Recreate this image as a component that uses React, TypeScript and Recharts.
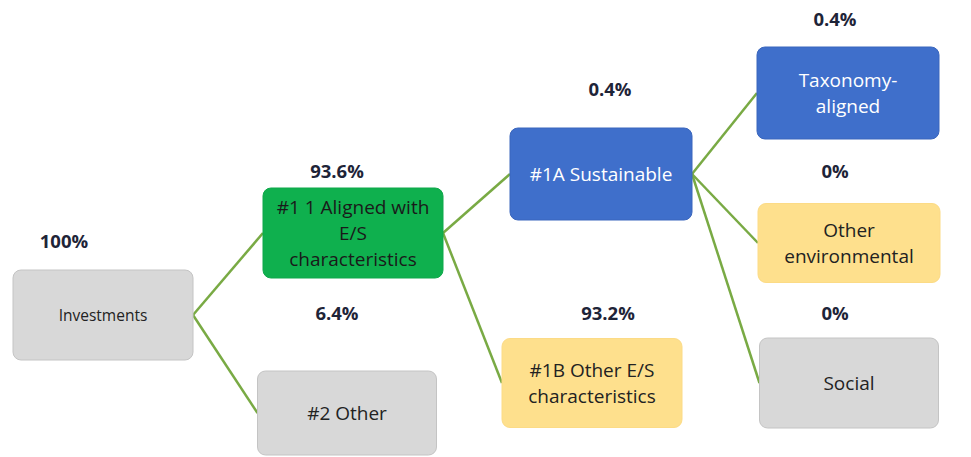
import React from 'react';
import { ScatterChart, Scatter, XAxis, YAxis, ReferenceLine } from 'recharts';

// ---- data ----
const nodeNames = [
  'Investments',
  '#1 1 Aligned with E/S characteristics',
  '#2 Other',
  '#1A Sustainable',
  '#1B Other E/S characteristics',
  'Taxonomy-aligned',
  'Other environmental',
  'Social',
];
const nodeLines = [
  ['Investments'],
  ['#1 1 Aligned with', 'E/S', 'characteristics'],
  ['#2 Other'],
  ['#1A Sustainable'],
  ['#1B Other E/S', 'characteristics'],
  ['Taxonomy-', 'aligned'],
  ['Other', 'environmental'],
  ['Social'],
];
const shareValues = [100, 93.6, 6.4, 0.4, 93.2, 0.4, 0, 0];
const shareLabels = ['100%', '93.6%', '6.4%', '0.4%', '93.2%', '0.4%', '0%', '0%'];
const parentIndex = [-1, 0, 0, 1, 1, 3, 3, 3];
const nodeKind = ['gray', 'green', 'gray', 'blue', 'yellow', 'blue', 'yellow', 'gray'];

// ---- layout (diagram units) ----
const layout = [
  { cx: 103, cy: 315, w: 180, h: 90, lx: 64, ly: 240, fs: 15.5 },
  { cx: 353, cy: 233, w: 180, h: 90, lx: 337, ly: 170, fs: 19 },
  { cx: 347, cy: 413, w: 179, h: 84, lx: 337, ly: 312, fs: 19 },
  { cx: 601, cy: 174, w: 182, h: 92, lx: 610, ly: 88, fs: 19 },
  { cx: 592, cy: 383, w: 180, h: 89, lx: 608, ly: 312, fs: 19 },
  { cx: 848, cy: 93, w: 182, h: 92, lx: 835, ly: 18, fs: 19 },
  { cx: 849, cy: 243, w: 182, h: 79, lx: 835, ly: 170, fs: 19 },
  { cx: 849, cy: 383, w: 179, h: 90, lx: 835, ly: 312, fs: 19 },
];

const styles: Record<string, { fill: string; stroke: string; text: string }> = {
  gray: { fill: '#d8d8d8', stroke: '#c4c4c4', text: '#222222' },
  green: { fill: '#0fb04e', stroke: '#0fa84a', text: '#1a1a1a' },
  blue: { fill: '#3f6fcb', stroke: '#3a66bd', text: '#ffffff' },
  yellow: { fill: '#fee08d', stroke: '#fcdb86', text: '#222222' },
};

const FONT = '"Open Sans", sans-serif';

const nodeData = nodeNames.map((name, i) => ({
  x: layout[i].cx,
  y: layout[i].cy,
  name,
  lines: nodeLines[i],
  share: shareValues[i],
  kind: nodeKind[i],
  w: layout[i].w,
  h: layout[i].h,
  fs: layout[i].fs,
}));

const labelData = shareLabels.map((label, i) => ({
  x: layout[i].lx,
  y: layout[i].ly,
  label,
}));

const edges = parentIndex
  .map((p, i) => ({ p, i }))
  .filter((e) => e.p >= 0)
  .map(({ p, i }) => [
    { x: layout[p].cx + layout[p].w / 2, y: layout[p].cy },
    { x: layout[i].cx - layout[i].w / 2, y: layout[i].cy },
  ]);

const NodeShape = (props: any) => {
  const { cx, cy, payload } = props;
  const st = styles[payload.kind];
  const lh = payload.fs * 1.38;
  const n = payload.lines.length;
  return (
    <g>
      <rect
        x={cx - payload.w / 2}
        y={cy - payload.h / 2}
        width={payload.w}
        height={payload.h}
        rx={8}
        ry={8}
        fill={st.fill}
        stroke={st.stroke}
        strokeWidth={1}
      />
      {payload.lines.map((t: string, k: number) => (
        <text
          key={k}
          x={cx}
          y={cy + (k - (n - 1) / 2) * lh}
          textAnchor="middle"
          dominantBaseline="central"
          fontFamily={FONT}
          fontSize={payload.fs}
          fill={st.text}
        >
          {t}
        </text>
      ))}
    </g>
  );
};

const LabelShape = (props: any) => {
  const { cx, cy, payload } = props;
  return (
    <text
      x={cx}
      y={cy}
      textAnchor="middle"
      dominantBaseline="central"
      fontFamily={FONT}
      fontWeight={700}
      fontSize={18.5}
      fill="#1e2438"
    >
      {payload.label}
    </text>
  );
};

export default function App() {
  return (
    <div style={{ position: 'absolute', left: 0, top: 0, background: '#ffffff' }}>
      <ScatterChart width={971} height={457} margin={{ top: 0, right: 0, bottom: 0, left: 0 }}>
        <XAxis type="number" dataKey="x" domain={[0, 971]} hide />
        <YAxis type="number" dataKey="y" domain={[0, 457]} reversed hide />
        {edges.map((seg, k) => (
          <ReferenceLine
            key={k}
            segment={seg}
            stroke="#79aa44"
            strokeWidth={2.5}
            ifOverflow="visible"
          />
        ))}
        <Scatter data={nodeData} shape={NodeShape} isAnimationActive={false} />
        <Scatter data={labelData} shape={LabelShape} isAnimationActive={false} />
      </ScatterChart>
    </div>
  );
}
